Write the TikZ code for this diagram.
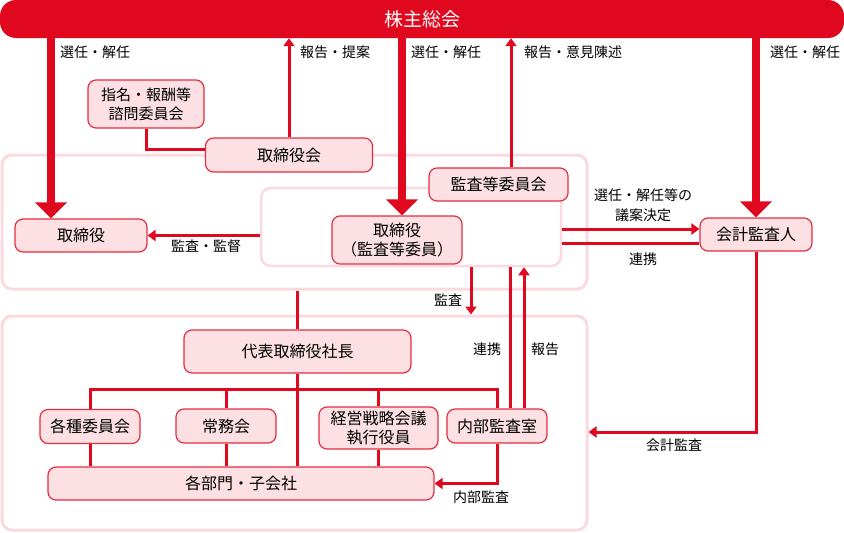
\documentclass[tikz,border=0pt]{standalone}
\usepackage{fontspec}
\setmainfont{Noto Sans CJK JP}
\usetikzlibrary{arrows.meta}
\definecolor{kred}{HTML}{E0081F}
\definecolor{kpink}{HTML}{FCE0E3}
\definecolor{kframe}{HTML}{FADADF}

\begin{document}
\begin{tikzpicture}[x=1pt,y=-1pt,
  box/.style={draw=kred!85,fill=kpink,line width=1.2pt,rounded corners=8pt,inner sep=0pt,align=center,font=\fontsize{16}{19}\selectfont},
  outer/.style={draw=kframe,line width=3pt,rounded corners=10pt,inner sep=0pt},
  lab/.style={font=\fontsize{14}{20}\selectfont,inner sep=0pt,align=center},
  link/.style={draw=kred,line width=3pt},
  arr/.style={link,-{Triangle[width=11pt,length=8pt]}},
  bigarr/.style={draw=kred,line width=8pt,-{Triangle[width=31pt,length=16pt]}}]
\useasboundingbox (0,0) rectangle (844,533);

\node[outer,minimum width=585pt,minimum height=134pt] (upper) at (294.5,222) {};
\node[outer,minimum width=585pt,minimum height=214pt] (lower) at (294.5,423) {};
\node[outer,fill=white,line width=2.5pt,minimum width=300pt,minimum height=78pt] (audarea) at (411,227) {};

\node[fill=kred,rounded corners=16pt,minimum width=844pt,minimum height=38pt,inner sep=0pt,text=white,font=\fontsize{19}{19}\selectfont] (gm) at (422,19) {株主総会};

\node[box,font=\fontsize{15}{19}\selectfont,minimum width=116pt,minimum height=48pt] (nomi) at (146,104) {指名・報酬等\\諮問委員会};
\node[box,minimum width=167pt,minimum height=34pt] (board) at (289,155) {取締役会};
\node[box,minimum width=132pt,minimum height=33pt] (dir) at (81,235.5) {取締役};
\node[box,minimum width=130pt,minimum height=48pt] (auddir) at (397,240) {取締役\\（監査等委員）};
\node[box,minimum width=139pt,minimum height=33pt] (audcom) at (498.5,184.5) {監査等委員会};
\node[box,minimum width=112pt,minimum height=33pt] (acct) at (756,234.5) {会計監査人};

\node[box,minimum width=227pt,minimum height=43pt] (pres) at (297.5,351.5) {代表取締役社長};
\node[box,minimum width=100pt,minimum height=34pt] (comms) at (90,426.5) {各種委員会};
\node[box,minimum width=100pt,minimum height=34pt] (exec) at (226,426) {常務会};
\node[box,minimum width=119pt,minimum height=42pt] (strat) at (378.5,428) {経営戦略会議\\執行役員};
\node[box,minimum width=100pt,minimum height=34pt] (intaud) at (497,426) {内部監査室};
\node[box,minimum width=386pt,minimum height=33pt] (depts) at (241,483.5) {各部門・子会社};
\coordinate (hbar) at (0,389);

\draw[bigarr] ([xshift=-30pt]dir.north |- gm.south) -- ([xshift=-30pt]dir.north);
\draw[bigarr] ([xshift=5pt]auddir.north |- gm.south) -- ([xshift=5pt]auddir.north);
\draw[bigarr] (acct.north |- gm.south) -- (acct.north);
\draw[arr] (board.north) -- (board.north |- gm.south);
\draw[arr] ([xshift=12.5pt]audcom.north) -- ([xshift=12.5pt]audcom.north |- gm.south);
\draw[link] (nomi.south) |- ([yshift=6pt]board.west);

\draw[arr] (audarea.west |- dir.east) -- (dir.east);
\draw[arr] ([yshift=5.5pt]acct.west -| audarea.east) -- ([yshift=5.5pt]acct.west);
\draw[link] ([yshift=-8.5pt]acct.west -| audarea.east) -- ([yshift=-8.5pt]acct.west);
\draw[arr] (acct.south) |- ([yshift=-9pt]lower.east);
\draw[arr] ([xshift=60pt]audarea.south) -- ([xshift=60pt]audarea.south |- lower.north);
\draw[link] ([xshift=13pt]intaud.north) -- ([xshift=13pt]intaud.north |- audarea.south);
\draw[arr] ([xshift=27pt]intaud.north) -- ([xshift=27pt]intaud.north |- audarea.south);

\draw[link] (pres.north) -- (pres.north |- upper.south);
\draw[link] (pres.south) -- (pres.south |- depts.north);
\draw[link] (comms.north) |- (hbar -| intaud.north) -- (intaud.north);
\draw[link] (exec.north) -- (exec.north |- hbar);
\draw[link] (strat.north) -- (strat.north |- hbar);
\draw[link] (comms.south) -- (comms.south |- depts.north);
\draw[link] (exec.south) -- (exec.south |- depts.north);
\draw[link] (strat.south) -- (strat.south |- depts.north);
\draw[arr] (intaud.south) |- (depts.east);

\node[lab,anchor=west] (l-elect1) at (60,52) {選任・解任};
\node[lab,anchor=west] (l-report1) at (300,52) {報告・提案};
\node[lab,anchor=west] (l-elect2) at (411,52) {選任・解任};
\node[lab,anchor=west] (l-report2) at (524,52) {報告・意見陳述};
\node[lab,anchor=west] (l-elect3) at (770,52) {選任・解任};
\node[lab] (l-supv) at (206,246) {監査・監督};
\node[lab] (l-agenda) at (643,205) {選任・解任等の\\議案決定};
\node[lab] (l-coop1) at (643,259) {連携};
\node[lab] (l-acctaud) at (674,445) {会計監査};
\node[lab] (l-audit) at (448,300) {監査};
\node[lab] (l-coop2) at (487,349) {連携};
\node[lab] (l-report3) at (545,349) {報告};
\node[lab] (l-intaud) at (481,497) {内部監査};
\end{tikzpicture}
\end{document}
